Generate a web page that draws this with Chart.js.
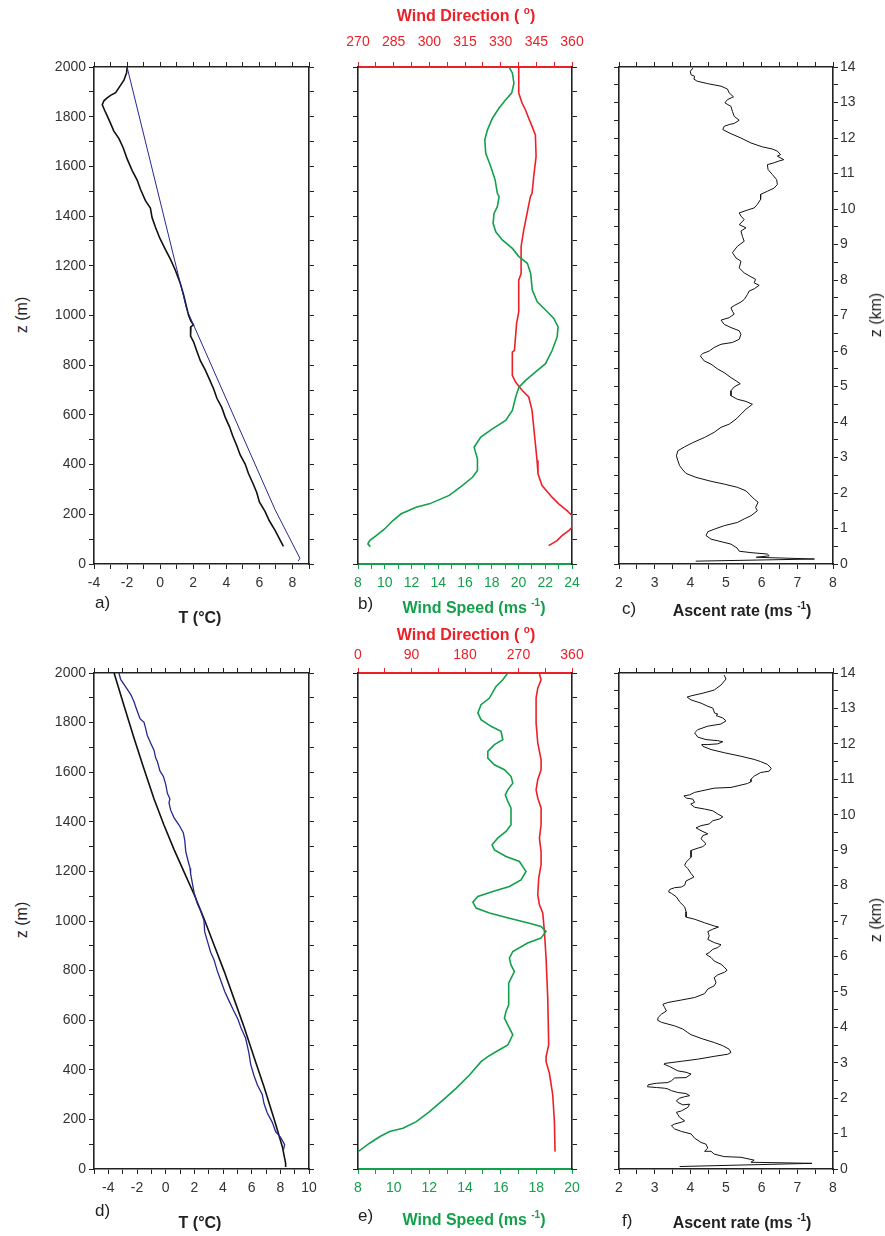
<!DOCTYPE html>
<html>
<head>
<meta charset="utf-8">
<script src="https://cdn.jsdelivr.net/npm/chart.js@4/dist/chart.umd.min.js"></script>
<style>
  body { margin: 0; background: #fff; }
  #fig { position: relative; width: 885px; height: 1236px; background: #fff; overflow: hidden; }
  #fig canvas { position: absolute; }
  .lbl { position: absolute; font-family: "Liberation Sans", Arial, sans-serif; white-space: nowrap; color: #222; transform: translate(-50%, -50%); }
  .tag { position: absolute; font-family: "Liberation Sans", Arial, sans-serif; font-size: 17px; color: #222; transform: translateY(-50%); }
  .b { font-weight: bold; font-size: 16px; }
  .rot { font-size: 16px; transform: translate(-50%, -50%) rotate(-90deg); }
  sup { font-size: 10px; vertical-align: 7px; }
</style>
</head>
<body>
<div id="fig"></div>
<script>
// ---- data: [height, value] pairs ----
// a) temperature, measured (black) and reference lapse (blue)
const aMeasured = [[2000,-1.99],[1977,-2.03],[1947,-2.19],[1917,-2.49],[1897,-2.69],[1886,-3.00],[1874,-3.24],[1864,-3.40],[1848,-3.50],[1826,-3.36],[1803,-3.20],[1773,-3.00],[1742,-2.80],[1712,-2.49],[1674,-2.23],[1629,-1.99],[1583,-1.69],[1545,-1.39],[1508,-1.19],[1462,-0.89],[1432,-0.59],[1394,-0.49],[1356,-0.29],[1311,-0.02],[1265,0.32],[1227,0.62],[1182,0.92],[1129,1.22],[1083,1.42],[1038,1.58],[1000,1.72],[977,1.86],[962,2.02],[955,1.86],[935,1.82],[917,1.86],[894,2.02],[856,2.22],[818,2.43],[780,2.73],[742,2.99],[705,3.23],[667,3.43],[629,3.73],[591,3.93],[553,4.19],[515,4.39],[477,4.63],[439,4.84],[402,5.14],[364,5.34],[326,5.60],[288,5.84],[250,6.00],[212,6.34],[174,6.60],[136,6.94],[98,7.24],[71,7.45]];
const aReference = [[2000,-2.0],[1024,1.61],[220,6.94],[23,8.45],[12,8.35]];

// b) wind speed (green) and direction (red)
const bSpeed = [[2000,19.29],[1976,19.54],[1935,19.66],[1895,19.49],[1868,19.04],[1835,18.55],[1794,18.05],[1747,17.68],[1707,17.48],[1653,17.55],[1599,17.93],[1546,18.25],[1492,18.42],[1478,18.55],[1438,18.42],[1411,18.17],[1371,18.10],[1337,18.30],[1304,18.79],[1270,19.54],[1237,20.03],[1210,20.66],[1169,20.91],[1102,21.03],[1055,21.40],[1022,22.02],[988,22.64],[954,22.96],[914,22.89],[860,22.52],[806,22.02],[773,21.28],[739,20.53],[712,20.03],[672,19.79],[618,19.54],[578,19.04],[544,18.05],[511,17.18],[470,16.68],[423,16.93],[376,16.93],[349,16.56],[316,15.82],[276,14.82],[242,13.34],[228,12.34],[202,11.23],[175,10.61],[141,9.99],[114,9.36],[94,8.87],[81,8.74],[70,8.92]];
const bDirection = [[2000,337.6],[1895,337.6],[1855,339.0],[1828,340.4],[1794,341.8],[1761,343.2],[1727,344.6],[1640,344.9],[1559,343.9],[1492,343.2],[1478,342.5],[1411,341.1],[1344,339.7],[1277,338.6],[1169,338.6],[1142,337.6],[1015,337.6],[968,336.7],[860,335.8],[853,334.9],[759,334.9],[733,336.2],[699,339.0],[672,341.8],[618,343.2],[484,344.6],[417,345.3],[363,345.7],[316,347.4],[269,351.6],[242,354.4],[215,357.9],[195,360],[148,360],[134,358.6],[114,355.8],[94,353.7],[74,350.2]];

// c) ascent rate vs height (km)
const cAscent = [[13.97,4.07],[13.88,4.00],[13.78,4.02],[13.74,4.12],[13.66,4.10],[13.60,4.19],[13.53,4.49],[13.46,4.86],[13.38,5.04],[13.27,5.09],[13.16,5.21],[13.08,5.04],[12.99,4.97],[12.89,5.14],[12.75,5.18],[12.61,5.23],[12.50,5.37],[12.41,5.23],[12.38,5.09],[12.33,4.95],[12.24,4.91],[12.19,5.00],[12.12,5.14],[12.00,5.42],[11.86,5.70],[11.75,6.02],[11.69,6.30],[11.63,6.44],[11.53,6.53],[11.49,6.44],[11.39,6.62],[11.35,6.48],[11.30,6.34],[11.25,6.16],[11.11,6.18],[10.97,6.30],[10.83,6.42],[10.69,6.44],[10.59,6.35],[10.50,6.16],[10.41,5.97],[10.27,5.97],[10.13,5.88],[10.03,5.79],[9.97,5.60],[9.89,5.37],[9.80,5.42],[9.70,5.51],[9.56,5.37],[9.47,5.56],[9.38,5.42],[9.23,5.46],[9.09,5.51],[8.95,5.32],[8.77,5.18],[8.62,5.28],[8.53,5.42],[8.34,5.37],[8.20,5.51],[8.09,5.70],[8.02,5.83],[7.92,5.79],[7.85,5.93],[7.75,5.79],[7.69,5.65],[7.59,5.60],[7.45,5.51],[7.38,5.42],[7.28,5.23],[7.22,5.14],[7.12,5.18],[7.04,5.23],[6.94,5.09],[6.87,4.86],[6.75,4.95],[6.66,5.14],[6.57,5.37],[6.47,5.42],[6.33,5.37],[6.24,5.18],[6.19,4.86],[6.10,4.67],[6.00,4.53],[5.93,4.35],[5.86,4.28],[5.72,4.39],[5.63,4.58],[5.49,4.77],[5.39,4.95],[5.25,5.14],[5.16,5.28],[5.08,5.40],[4.99,5.23],[4.88,5.14],[4.74,5.14],[4.64,5.32],[4.58,5.56],[4.50,5.74],[4.36,5.56],[4.22,5.42],[4.08,5.28],[3.94,5.09],[3.85,4.86],[3.71,4.67],[3.56,4.39],[3.42,4.07],[3.30,3.84],[3.19,3.65],[3.05,3.61],[2.91,3.65],[2.77,3.70],[2.65,3.79],[2.55,3.88],[2.44,4.16],[2.33,4.58],[2.25,4.95],[2.16,5.32],[2.06,5.56],[1.97,5.65],[1.83,5.79],[1.74,5.90],[1.59,5.83],[1.50,5.88],[1.36,5.70],[1.27,5.51],[1.17,5.32],[1.08,4.95],[0.98,4.67],[0.91,4.49],[0.80,4.44],[0.70,4.58],[0.63,4.86],[0.56,5.14],[0.45,5.31],[0.36,5.37],[0.32,5.70],[0.28,6.16],[0.23,6.21],[0.19,5.85],[0.14,7.48],[0.08,4.15]];

// d) temperature, model (black) and measured (blue)
const dModel = [[2000,-3.60],[1869,-2.91],[1738,-2.21],[1613,-1.51],[1492,-0.81],[1387,-0.12],[1289,0.58],[1198,1.28],[1108,1.98],[1010,2.67],[904,3.37],[799,4.07],[686,4.77],[573,5.47],[452,6.16],[332,6.86],[203,7.56],[90,8.14],[23,8.37],[8,8.37]];
const dMeasured = [[2000,-3.26],[1974,-3.14],[1944,-2.79],[1914,-2.44],[1884,-2.21],[1846,-1.98],[1816,-1.79],[1801,-1.51],[1778,-1.40],[1748,-1.28],[1718,-1.05],[1688,-0.81],[1658,-0.70],[1643,-0.58],[1605,-0.40],[1583,-0.16],[1552,0.00],[1515,0.12],[1492,0.30],[1477,0.23],[1447,0.35],[1417,0.58],[1387,0.93],[1356,1.23],[1326,1.33],[1281,1.40],[1243,1.56],[1213,1.70],[1191,1.74],[1153,1.86],[1115,1.98],[1070,2.21],[1040,2.44],[1002,2.67],[957,2.72],[919,2.91],[874,3.14],[844,3.37],[799,3.60],[761,3.84],[716,4.12],[678,4.42],[641,4.72],[603,5.05],[565,5.28],[527,5.58],[467,5.81],[422,5.93],[377,6.16],[339,6.40],[301,6.74],[264,6.86],[226,7.09],[188,7.44],[151,7.67],[128,8.02],[98,8.30],[75,8.21]];

// e) wind speed (green) and direction (red)
const eSpeed = [[2000,16.40],[1973,16.12],[1946,15.74],[1899,15.37],[1872,14.90],[1839,14.72],[1812,14.90],[1785,15.46],[1765,16.02],[1731,16.12],[1711,15.65],[1684,15.28],[1657,15.28],[1630,15.65],[1610,16.21],[1583,16.58],[1556,16.68],[1529,16.40],[1509,16.26],[1482,16.40],[1455,16.58],[1388,16.58],[1361,16.30],[1334,15.83],[1307,15.52],[1287,15.65],[1260,16.30],[1240,17.05],[1200,17.42],[1166,17.14],[1139,16.49],[1119,15.56],[1099,14.72],[1076,14.44],[1052,14.62],[1032,15.37],[1011,16.49],[991,17.61],[978,18.26],[958,18.54],[931,18.26],[911,17.51],[877,16.68],[850,16.49],[823,16.58],[796,16.77],[769,16.58],[749,16.45],[662,16.45],[635,16.30],[608,16.21],[574,16.45],[541,16.68],[500,16.40],[473,15.74],[453,15.28],[433,14.90],[379,14.25],[325,13.50],[278,12.76],[231,12.01],[191,11.27],[164,10.52],[151,9.77],[130,9.21],[104,8.65],[70,8.0]];
const eDirection = [[1996,305.2],[1973,308],[1939,302.4],[1899,299.6],[1798,299.6],[1718,302.4],[1650,308],[1610,308],[1570,302.4],[1529,299.6],[1496,302.4],[1455,308],[1388,308],[1334,305.2],[1280,308],[1227,308],[1173,304.0],[1106,302.4],[1065,305.2],[1032,310.8],[958,313.6],[850,316.4],[689,319.2],[500,320.8],[453,316.4],[433,316.4],[386,322],[299,327.6],[191,330.4],[70,331.5]];

// f) ascent rate vs height (km)
const fAscent = [[13.94,4.95],[13.83,5.00],[13.66,4.86],[13.52,4.67],[13.43,4.35],[13.36,4.04],[13.32,3.91],[13.24,4.02],[13.15,4.30],[13.06,4.49],[13.01,4.63],[12.87,4.68],[12.84,4.77],[12.80,4.72],[12.73,4.91],[12.65,5.00],[12.56,4.86],[12.50,4.49],[12.40,4.21],[12.31,4.12],[12.19,4.21],[12.12,4.44],[12.09,4.77],[12.06,4.91],[12.00,4.77],[11.98,4.49],[11.98,4.32],[11.93,4.35],[11.84,4.58],[11.75,4.95],[11.65,5.42],[11.56,5.79],[11.50,5.97],[11.42,6.16],[11.31,6.27],[11.23,6.21],[11.19,5.97],[11.09,5.79],[11.00,5.70],[10.93,5.70],[10.88,5.60],[10.77,5.14],[10.75,4.67],[10.67,4.30],[10.63,4.12],[10.56,3.98],[10.53,3.82],[10.47,3.89],[10.44,4.07],[10.35,4.12],[10.30,4.01],[10.21,4.12],[10.16,4.40],[10.11,4.63],[10.02,4.77],[9.94,4.91],[9.88,4.82],[9.83,4.63],[9.74,4.53],[9.69,4.30],[9.63,4.16],[9.55,4.30],[9.46,4.49],[9.41,4.35],[9.32,4.30],[9.18,4.44],[9.10,4.35],[9.04,4.16],[8.99,4.02],[8.80,4.02],[8.66,3.88],[8.57,3.84],[8.48,3.93],[8.34,4.02],[8.24,4.10],[8.20,4.02],[8.13,3.88],[8.01,3.84],[7.96,3.75],[7.94,3.56],[7.89,3.42],[7.82,3.39],[7.78,3.47],[7.68,3.61],[7.54,3.70],[7.40,3.84],[7.26,3.88],[7.17,3.88],[7.11,3.88],[7.05,4.12],[6.95,4.40],[6.86,4.67],[6.83,4.79],[6.77,4.63],[6.70,4.49],[6.58,4.53],[6.48,4.49],[6.39,4.67],[6.33,4.86],[6.25,4.77],[6.20,4.63],[6.11,4.53],[6.06,4.44],[5.97,4.58],[5.87,4.67],[5.78,4.86],[5.70,4.95],[5.61,5.03],[5.55,4.95],[5.48,4.77],[5.40,4.67],[5.26,4.72],[5.17,4.67],[5.08,4.49],[4.95,4.40],[4.84,4.12],[4.77,3.75],[4.70,3.37],[4.65,3.23],[4.56,3.28],[4.46,3.33],[4.37,3.19],[4.28,3.10],[4.20,3.08],[4.14,3.19],[4.04,3.56],[3.95,3.79],[3.85,3.93],[3.79,4.02],[3.67,4.35],[3.57,4.67],[3.48,4.91],[3.38,5.09],[3.29,5.14],[3.24,5.05],[3.18,4.67],[3.10,4.21],[3.04,3.75],[2.98,3.28],[2.96,3.26],[2.89,3.42],[2.77,3.65],[2.73,3.88],[2.68,4.02],[2.58,3.88],[2.57,3.56],[2.49,3.47],[2.44,3.37],[2.42,3.05],[2.38,2.82],[2.32,2.80],[2.30,3.05],[2.28,3.28],[2.26,3.37],[2.21,3.47],[2.16,3.65],[2.13,3.88],[2.07,3.98],[2.04,3.84],[2.00,3.70],[1.93,3.61],[1.88,3.65],[1.81,3.79],[1.83,3.98],[1.74,3.93],[1.64,3.75],[1.60,3.61],[1.46,3.70],[1.36,3.84],[1.32,3.75],[1.27,3.56],[1.22,3.47],[1.13,3.56],[1.06,3.75],[0.99,4.02],[0.87,4.12],[0.75,4.30],[0.70,4.44],[0.59,4.49],[0.50,4.40],[0.50,4.58],[0.42,4.67],[0.35,4.95],[0.33,5.42],[0.25,5.79],[0.19,5.70],[0.16,7.41],[0.07,3.70]];

// tick labels
const heightTicks = [0, 200, 400, 600, 800, 1000, 1200, 1400, 1600, 1800, 2000];
const kmTicks = [0, 1, 2, 3, 4, 5, 6, 7, 8, 9, 10, 11, 12, 13, 14];
const aTempTicks = [-4, -2, 0, 2, 4, 6, 8];
const dTempTicks = [-4, -2, 0, 2, 4, 6, 8, 10];
const bSpeedTicks = [8, 10, 12, 14, 16, 18, 20, 22, 24];
const bDirTicks = [270, 285, 300, 315, 330, 345, 360];
const eSpeedTicks = [8, 10, 12, 14, 16, 18, 20];
const eDirTicks = [0, 90, 180, 270, 360];
const ascentTicks = [2, 3, 4, 5, 6, 7, 8];

const FONT = '"Liberation Sans", Arial, sans-serif';
const BLACK = '#222';
const RED = '#ec2028';
const GREEN = '#13a04b';
const BLUE = '#26288f';

const fig = document.getElementById('fig');
const rows = [{ t: 67, b: 564 }, { t: 673, b: 1169 }];
const cols = [{ l: 94, r: 309 }, { l: 358, r: 572 }, { l: 619, r: 833 }];

function axis(o) {
    const horiz = o.position === 'top' || o.position === 'bottom';
    const col = o.color || BLACK;
    return {
        type: 'linear',
        position: o.position,
        min: o.min,
        max: o.max,
        ticks: {
            stepSize: o.step,
            autoSkip: false,
            maxRotation: 0,
            minRotation: 0,
            padding: o.pad || 3,
            color: o.color || '#333',
            font: { family: FONT, size: 14 },
            callback: v => (o.labels && o.labels.some(l => Math.abs(l - v) < 1e-6)) ? String(v) : ''
        },
        grid: { drawOnChartArea: false, drawTicks: true, tickLength: 5, color: col, tickColor: col, lineWidth: 1 },
        border: { display: true, color: col, width: o.bw || 1.6 },
        afterFit: s => {
            if (horiz) s.height = o.size; else s.width = o.size;
            s.paddingLeft = s.paddingRight = s.paddingTop = s.paddingBottom = 0;
        }
    };
}

function line(pairs, color, width, xAxisID) {
    return {
        data: pairs.map(p => ({ x: p[1], y: p[0] })),
        showLine: true,
        borderColor: color,
        borderWidth: width,
        pointRadius: 0,
        fill: false,
        tension: 0,
        xAxisID: xAxisID || 'x',
        yAxisID: 'y'
    };
}

function panel(col, row, pads, scales, datasets) {
    const c = document.createElement('canvas');
    c.width = (col.r - col.l) + pads.l + pads.r;
    c.height = (row.b - row.t) + pads.t + pads.b;
    c.style.left = (col.l - pads.l) + 'px';
    c.style.top = (row.t - pads.t) + 'px';
    fig.appendChild(c);
    new Chart(c, {
        type: 'scatter',
        data: { datasets: datasets },
        options: {
            responsive: false,
            animation: false,
            events: [],
            layout: { padding: 0 },
            plugins: { legend: { display: false }, tooltip: { enabled: false } },
            scales: scales
        }
    });
}

// a)
panel(cols[0], rows[0], { l: 60, r: 20, t: 15, b: 40 }, {
    x: axis({ position: 'bottom', min: -4, max: 9, step: 1, labels: aTempTicks, size: 40, pad: 6 }),
    xt: axis({ position: 'top', min: -4, max: 9, step: 1, size: 15 }),
    y: axis({ position: 'left', min: 0, max: 2000, step: 100, labels: heightTicks, size: 60 }),
    yr: axis({ position: 'right', min: 0, max: 2000, step: 100, size: 20 })
}, [line(aReference, BLUE, 1), line(aMeasured, '#111', 1.6)]);

// b)
panel(cols[1], rows[0], { l: 20, r: 20, t: 50, b: 40 }, {
    x: axis({ position: 'bottom', min: 8, max: 24, step: 1, labels: bSpeedTicks, size: 40, pad: 6, color: GREEN, bw: 2 }),
    x2: axis({ position: 'top', min: 270, max: 360, step: 7.5, labels: bDirTicks, size: 50, pad: 11, color: RED, bw: 2 }),
    y: axis({ position: 'left', min: 0, max: 2000, step: 100, size: 20 }),
    yr: axis({ position: 'right', min: 0, max: 2000, step: 100, size: 20 })
}, [line(bSpeed, GREEN, 1.6), line(bDirection, RED, 1.6, 'x2')]);

// c)
panel(cols[2], rows[0], { l: 20, r: 45, t: 15, b: 40 }, {
    x: axis({ position: 'bottom', min: 2, max: 8, step: 0.5, labels: ascentTicks, size: 40, pad: 6 }),
    xt: axis({ position: 'top', min: 2, max: 8, step: 0.5, size: 15 }),
    yl: axis({ position: 'left', min: 0, max: 14, step: 0.5, size: 20 }),
    y: axis({ position: 'right', min: 0, max: 14, step: 0.5, labels: kmTicks, size: 45, pad: 2 })
}, [line(cAscent, '#111', 1)]);

// d)
panel(cols[0], rows[1], { l: 60, r: 20, t: 15, b: 40 }, {
    x: axis({ position: 'bottom', min: -5, max: 10, step: 1, labels: dTempTicks, size: 40, pad: 6 }),
    xt: axis({ position: 'top', min: -5, max: 10, step: 1, size: 15 }),
    y: axis({ position: 'left', min: 0, max: 2000, step: 100, labels: heightTicks, size: 60 }),
    yr: axis({ position: 'right', min: 0, max: 2000, step: 100, size: 20 })
}, [line(dMeasured, BLUE, 1.3), line(dModel, '#111', 1.6)]);

// e)
panel(cols[1], rows[1], { l: 20, r: 20, t: 40, b: 40 }, {
    x: axis({ position: 'bottom', min: 8, max: 20, step: 1, labels: eSpeedTicks, size: 40, pad: 6, color: GREEN, bw: 2 }),
    x2: axis({ position: 'top', min: 0, max: 360, step: 45, labels: eDirTicks, size: 40, pad: 4, color: RED, bw: 2 }),
    y: axis({ position: 'left', min: 0, max: 2000, step: 100, size: 20 }),
    yr: axis({ position: 'right', min: 0, max: 2000, step: 100, size: 20 })
}, [line(eSpeed, GREEN, 1.6), line(eDirection, RED, 1.6, 'x2')]);

// f)
panel(cols[2], rows[1], { l: 20, r: 45, t: 15, b: 40 }, {
    x: axis({ position: 'bottom', min: 2, max: 8, step: 0.5, labels: ascentTicks, size: 40, pad: 6 }),
    xt: axis({ position: 'top', min: 2, max: 8, step: 0.5, size: 15 }),
    yl: axis({ position: 'left', min: 0, max: 14, step: 0.5, size: 20 }),
    y: axis({ position: 'right', min: 0, max: 14, step: 0.5, labels: kmTicks, size: 45, pad: 2 })
}, [line(fAscent, '#111', 1)]);

// text labels
function text(html, cls, x, y, color) {
    const d = document.createElement('div');
    d.className = cls;
    d.innerHTML = html;
    d.style.left = x + 'px';
    d.style.top = y + 'px';
    if (color) d.style.color = color;
    fig.appendChild(d);
}
text('z (m)', 'lbl rot', 22, 315);
text('z (m)', 'lbl rot', 22, 920);
text('z (km)', 'lbl rot', 876, 315);
text('z (km)', 'lbl rot', 876, 920);
text('a)', 'tag', 95, 603);
text('b)', 'tag', 358, 604);
text('c)', 'tag', 622, 609);
text('d)', 'tag', 95, 1211);
text('e)', 'tag', 358, 1216);
text('f)', 'tag', 622, 1221);
text('T (°C)', 'lbl b', 200, 618);
text('T (°C)', 'lbl b', 200, 1223);
text('Wind Speed (ms <sup>-1</sup>)', 'lbl b', 474, 607, GREEN);
text('Wind Speed (ms <sup>-1</sup>)', 'lbl b', 474, 1219, GREEN);
text('Wind Direction ( <sup>o</sup>)', 'lbl b', 466, 15, RED);
text('Wind Direction ( <sup>o</sup>)', 'lbl b', 466, 634, RED);
text('Ascent rate (ms <sup>-1</sup>)', 'lbl b', 742, 610);
text('Ascent rate (ms <sup>-1</sup>)', 'lbl b', 742, 1222);
</script>
</body>
</html>
